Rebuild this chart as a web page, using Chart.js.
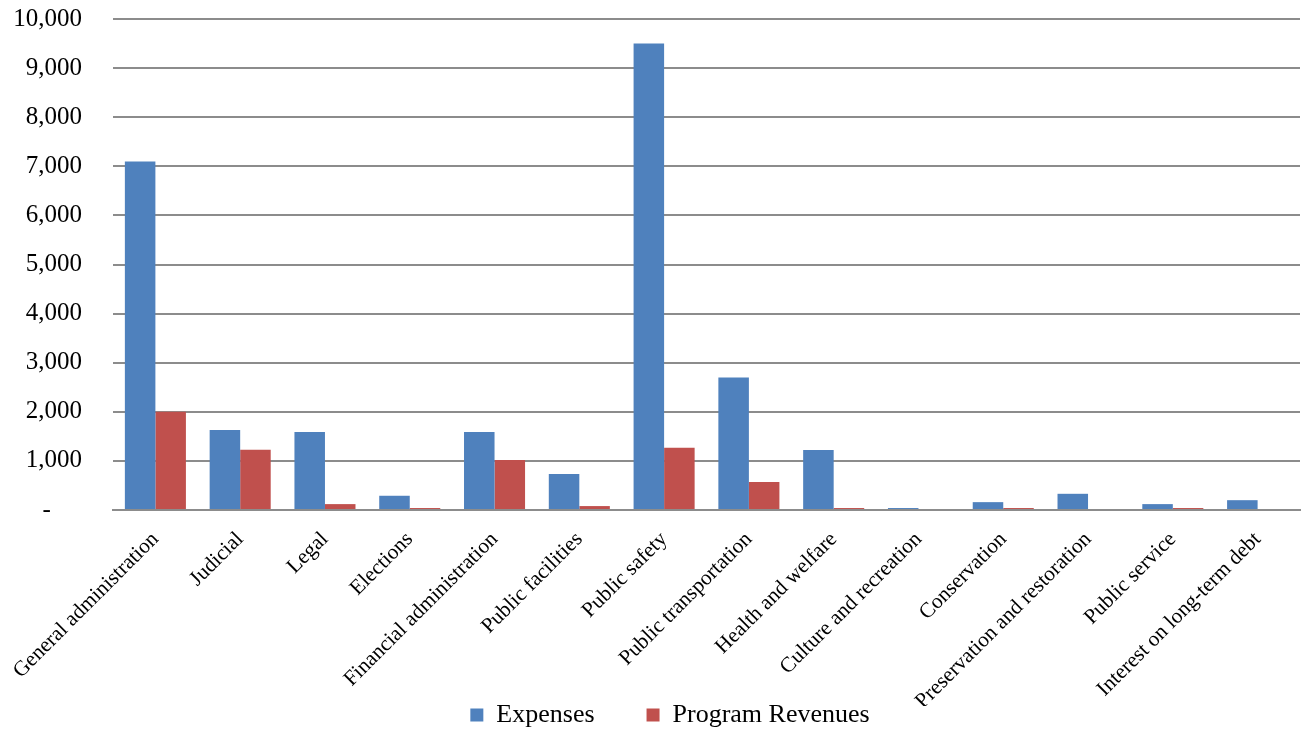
<!DOCTYPE html>
<html>
<head>
<meta charset="utf-8">
<script src="https://cdn.jsdelivr.net/npm/chart.js@4"></script>
<style>
  html, body { margin: 0; padding: 0; background: #fff; }
  #wrap { width: 1301px; height: 731px; }
</style>
</head>
<body>
<div id="wrap"><canvas id="chart"></canvas></div>
<script>
// Données
const categories = ['General administration', 'Judicial', 'Legal', 'Elections', 'Financial administration',
  'Public facilities', 'Public safety', 'Public transportation', 'Health and welfare',
  'Culture and recreation', 'Conservation', 'Preservation and restoration', 'Public service',
  'Interest on long-term debt']
const expenses = [7100, 1630, 1590, 290, 1590, 735, 9500, 2700, 1220, 40, 160, 330, 120, 200]
const programRevenues = [2000, 1225, 120, 40, 1020, 80, 1270, 570, 40, 0, 40, 0, 40, 0]
const yTicks = [0, 1000, 2000, 3000, 4000, 5000, 6000, 7000, 8000, 9000, 10000]

const fontFamily = '"Liberation Serif", "Times New Roman", serif'

// Décale la légende (centrée un peu à droite et un peu plus haut dans l'original)
const legendShift = {
  id: 'legendShift',
  afterLayout(chart) {
    const lg = chart.legend
    lg.left += 20
    lg.right += 20
    lg.top -= 4
    lg.bottom -= 4
  }
}

const config = {
  type: 'bar',
  data: {
    labels: categories,
    datasets: [{
      label: 'Expenses',
      data: expenses,
      backgroundColor: '#4F81BD',
      categoryPercentage: 0.72,
      barPercentage: 1
    },
    {
      label: 'Program Revenues',
      data: programRevenues,
      backgroundColor: '#C0504D',
      categoryPercentage: 0.72,
      barPercentage: 1
    }]
  },
  options: {
    responsive: true,
    maintainAspectRatio: false,
    animation: false,
    layout: { padding: { top: 19, right: 1, left: 0, bottom: -11 } },
    plugins: {
      legend: {
        position: 'bottom',
        labels: {
          font: { family: fontFamily, size: 26 },
          color: '#000',
          boxWidth: 13,
          boxHeight: 13,
          padding: 0,
          // espace entre les deux éléments de la légende
          generateLabels: chart => {
            const items = Chart.defaults.plugins.legend.labels.generateLabels(chart)
            items[0].text = items[0].text + '\u2002\u2002\u2002\u2002'
            return items
          }
        }
      },
      tooltip: { enabled: false }
    },
    scales: {
      x: {
        grid: { display: false },
        border: { display: true, color: '#8c8c8c', width: 2 },
        afterFit: axis => { axis.height = 196 },
        ticks: {
          font: { family: fontFamily, size: 21.3 },
          color: '#000',
          padding: 9,
          maxRotation: 45,
          minRotation: 45,
          autoSkip: false
        }
      },
      y: {
        min: 0,
        max: 10000,
        afterBuildTicks: axis => { axis.ticks = yTicks.map(v => ({ value: v })) },
        afterFit: axis => {
          axis.width = 113
          axis.paddingTop = 0
          axis.paddingBottom = 0
        },
        grid: { color: '#8c8c8c', lineWidth: 2, drawTicks: false },
        border: { display: false },
        ticks: {
          font: { family: fontFamily, size: 25 },
          color: '#000',
          padding: 31,
          callback: v => v === 0 ? '-     ' : v.toLocaleString('en-US')
        }
      }
    }
  },
  plugins: [legendShift]
}

new Chart(document.getElementById('chart').getContext('2d'), config)
</script>
</body>
</html>
